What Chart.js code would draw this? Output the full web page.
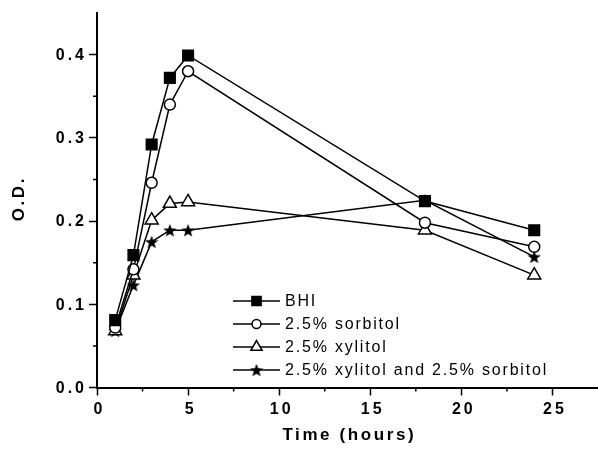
<!DOCTYPE html>
<html>
<head>
<meta charset="utf-8">
<script src="https://cdn.jsdelivr.net/npm/chart.js@4"></script>
<style>
  html, body { margin: 0; padding: 0; background: #fff; }
  #wrap { width: 598px; height: 452px; }
</style>
</head>
<body>
<div id="wrap"><canvas id="chart" width="598" height="452"></canvas></div>
<script>
const hours = [1, 2, 3, 4, 5, 18, 24];
const bhi = [0.081, 0.159, 0.292, 0.372, 0.399, 0.224, 0.189];
const sorbitol = [0.072, 0.142, 0.246, 0.340, 0.380, 0.198, 0.169];
const xylitol = [0.068, 0.135, 0.201, 0.221, 0.223, 0.189, 0.135];
const xylSorb = [0.068, 0.123, 0.175, 0.189, 0.189, 0.225, 0.157];
const seriesNames = ['BHI', '2.5% sorbitol', '2.5% xylitol', '2.5% xylitol and 2.5% sorbitol'];
const xMajor = [0, 5, 10, 15, 20, 25];
const xMinor = [2.5, 7.5, 12.5, 17.5, 22.5];
const yMajor = [0, 0.1, 0.2, 0.3, 0.4];
const yMinor = [0.05, 0.15, 0.25, 0.35];

// filled five point star, chart.js has no such point style
function makeStar(size) {
  const c = document.createElement('canvas');
  c.width = size; c.height = size;
  const g = c.getContext('2d');
  const cx = size / 2, cy = size / 2 + 0.7, ro = size / 2, ri = ro * 0.42;
  g.beginPath();
  for (let i = 0; i < 10; i++) {
    const r = i % 2 ? ri : ro;
    const a = -Math.PI / 2 + i * Math.PI / 5;
    g.lineTo(cx + r * Math.cos(a), cy + r * Math.sin(a));
  }
  g.closePath();
  g.fillStyle = '#000';
  g.fill();
  return c;
}
const star = makeStar(14);

function pts(ys) { return hours.map((h, i) => ({ x: h, y: ys[i] })); }

const FONT = '"Liberation Sans", Arial, sans-serif';

// spaced-out text, like the scanned figure
function spacedText(ctx, text, x, y, align, spacing) {
  ctx.letterSpacing = spacing + 'px';
  const w = ctx.measureText(text).width - spacing;
  let left = x;
  if (align === 'center') left = x - w / 2;
  else if (align === 'right') left = x - w;
  ctx.textAlign = 'left';
  ctx.fillText(text, left, y);
  ctx.letterSpacing = '0px';
}

const axisText = {
  id: 'axisText',
  afterDraw(chart) {
    const ctx = chart.ctx;
    const xs = chart.scales.x, ys = chart.scales.y;
    ctx.save();
    ctx.fillStyle = '#000';
    ctx.strokeStyle = '#000';
    ctx.lineWidth = 1.5;
    // minor ticks
    ctx.beginPath();
    xMinor.forEach(v => { const p = xs.getPixelForValue(v); ctx.moveTo(p, xs.top); ctx.lineTo(p, xs.top + 4); });
    yMinor.forEach(v => { const p = ys.getPixelForValue(v); ctx.moveTo(ys.right, p); ctx.lineTo(ys.right - 4, p); });
    ctx.stroke();

    ctx.textBaseline = 'middle';
    ctx.font = 'bold 16px ' + FONT;
    xMajor.forEach(v => spacedText(ctx, String(v), xs.getPixelForValue(v) + 1, 410, 'center', 3));
    yMajor.forEach(v => spacedText(ctx, v.toFixed(1), 84, ys.getPixelForValue(v) + 1, 'right', 3));

    ctx.font = 'bold 17px ' + FONT;
    spacedText(ctx, 'Time (hours)', 348, 435, 'center', 2.6);
    ctx.save();
    ctx.translate(19, 200);
    ctx.rotate(-Math.PI / 2);
    spacedText(ctx, 'O.D.', 0, 0, 'center', 2.6);
    ctx.restore();
    ctx.restore();
  }
};

const legendPlugin = {
  id: 'insideLegend',
  afterDatasetsDraw(chart) {
    const ctx = chart.ctx;
    const x0 = 233, x1 = 280, tx = 285;
    const rows = [301, 324, 347, 370];
    ctx.save();
    ctx.font = '16px ' + FONT;
    ctx.textBaseline = 'middle';
    chart.data.datasets.forEach((ds, i) => {
      const y = rows[i];
      ctx.strokeStyle = '#000';
      ctx.lineWidth = 1.5;
      ctx.beginPath(); ctx.moveTo(x0, y); ctx.lineTo(x1, y); ctx.stroke();
      const mx = (x0 + x1) / 2;
      if (ds.pointStyle instanceof HTMLCanvasElement) {
        ctx.drawImage(ds.pointStyle, mx - ds.pointStyle.width / 2, y - ds.pointStyle.height / 2);
      } else {
        ctx.fillStyle = ds.pointBackgroundColor;
        Chart.helpers.drawPoint(ctx, {
          pointStyle: ds.pointStyle, radius: ds.pointRadius - 1, borderWidth: 1.5, rotation: 0
        }, mx, y);
      }
      ctx.fillStyle = '#000';
      spacedText(ctx, seriesNames[i], tx, y + 1, 'left', 1.8);
    });
    ctx.restore();
  }
};

const common = {
  borderColor: '#000', borderWidth: 1.5, pointBorderColor: '#000',
  pointBorderWidth: 1.5, tension: 0, fill: false
};

new Chart(document.getElementById('chart'), {
  type: 'line',
  data: {
    datasets: [
      { ...common, label: seriesNames[0], data: pts(bhi), pointStyle: 'rect', pointRadius: 7.5, pointBackgroundColor: '#000' },
      { ...common, label: seriesNames[1], data: pts(sorbitol), pointStyle: 'circle', pointRadius: 5.5, pointBackgroundColor: '#fff' },
      { ...common, label: seriesNames[2], data: pts(xylitol), pointStyle: 'triangle', pointRadius: 7.5, pointBackgroundColor: '#fff' },
      { ...common, label: seriesNames[3], data: pts(xylSorb), pointStyle: star, pointRadius: 7, pointBackgroundColor: '#000' }
    ]
  },
  options: {
    responsive: false,
    animation: false,
    layout: { autoPadding: false, padding: { top: 13, right: 0, left: 0, bottom: 0 } },
    plugins: { legend: { display: false }, tooltip: { enabled: false } },
    scales: {
      x: {
        type: 'linear', min: 0, max: 27.5,
        afterBuildTicks: s => { s.ticks = xMajor.map(v => ({ value: v })); },
        afterFit: s => { s.height = 64.5; s.paddingLeft = 0; s.paddingRight = 0; },
        border: { color: '#000', width: 2 },
        grid: { drawOnChartArea: false, tickLength: 8, tickColor: '#000', tickWidth: 1.5 },
        ticks: { display: false }
      },
      y: {
        type: 'linear', min: 0, max: 0.45,
        afterBuildTicks: s => { s.ticks = yMajor.map(v => ({ value: v })); },
        afterFit: s => { s.width = 97; s.paddingTop = 0; s.paddingBottom = 0; },
        border: { color: '#000', width: 2 },
        grid: { drawOnChartArea: false, tickLength: 8, tickColor: '#000', tickWidth: 1.5 },
        ticks: { display: false }
      }
    }
  },
  plugins: [legendPlugin, axisText]
});
</script>
</body>
</html>
